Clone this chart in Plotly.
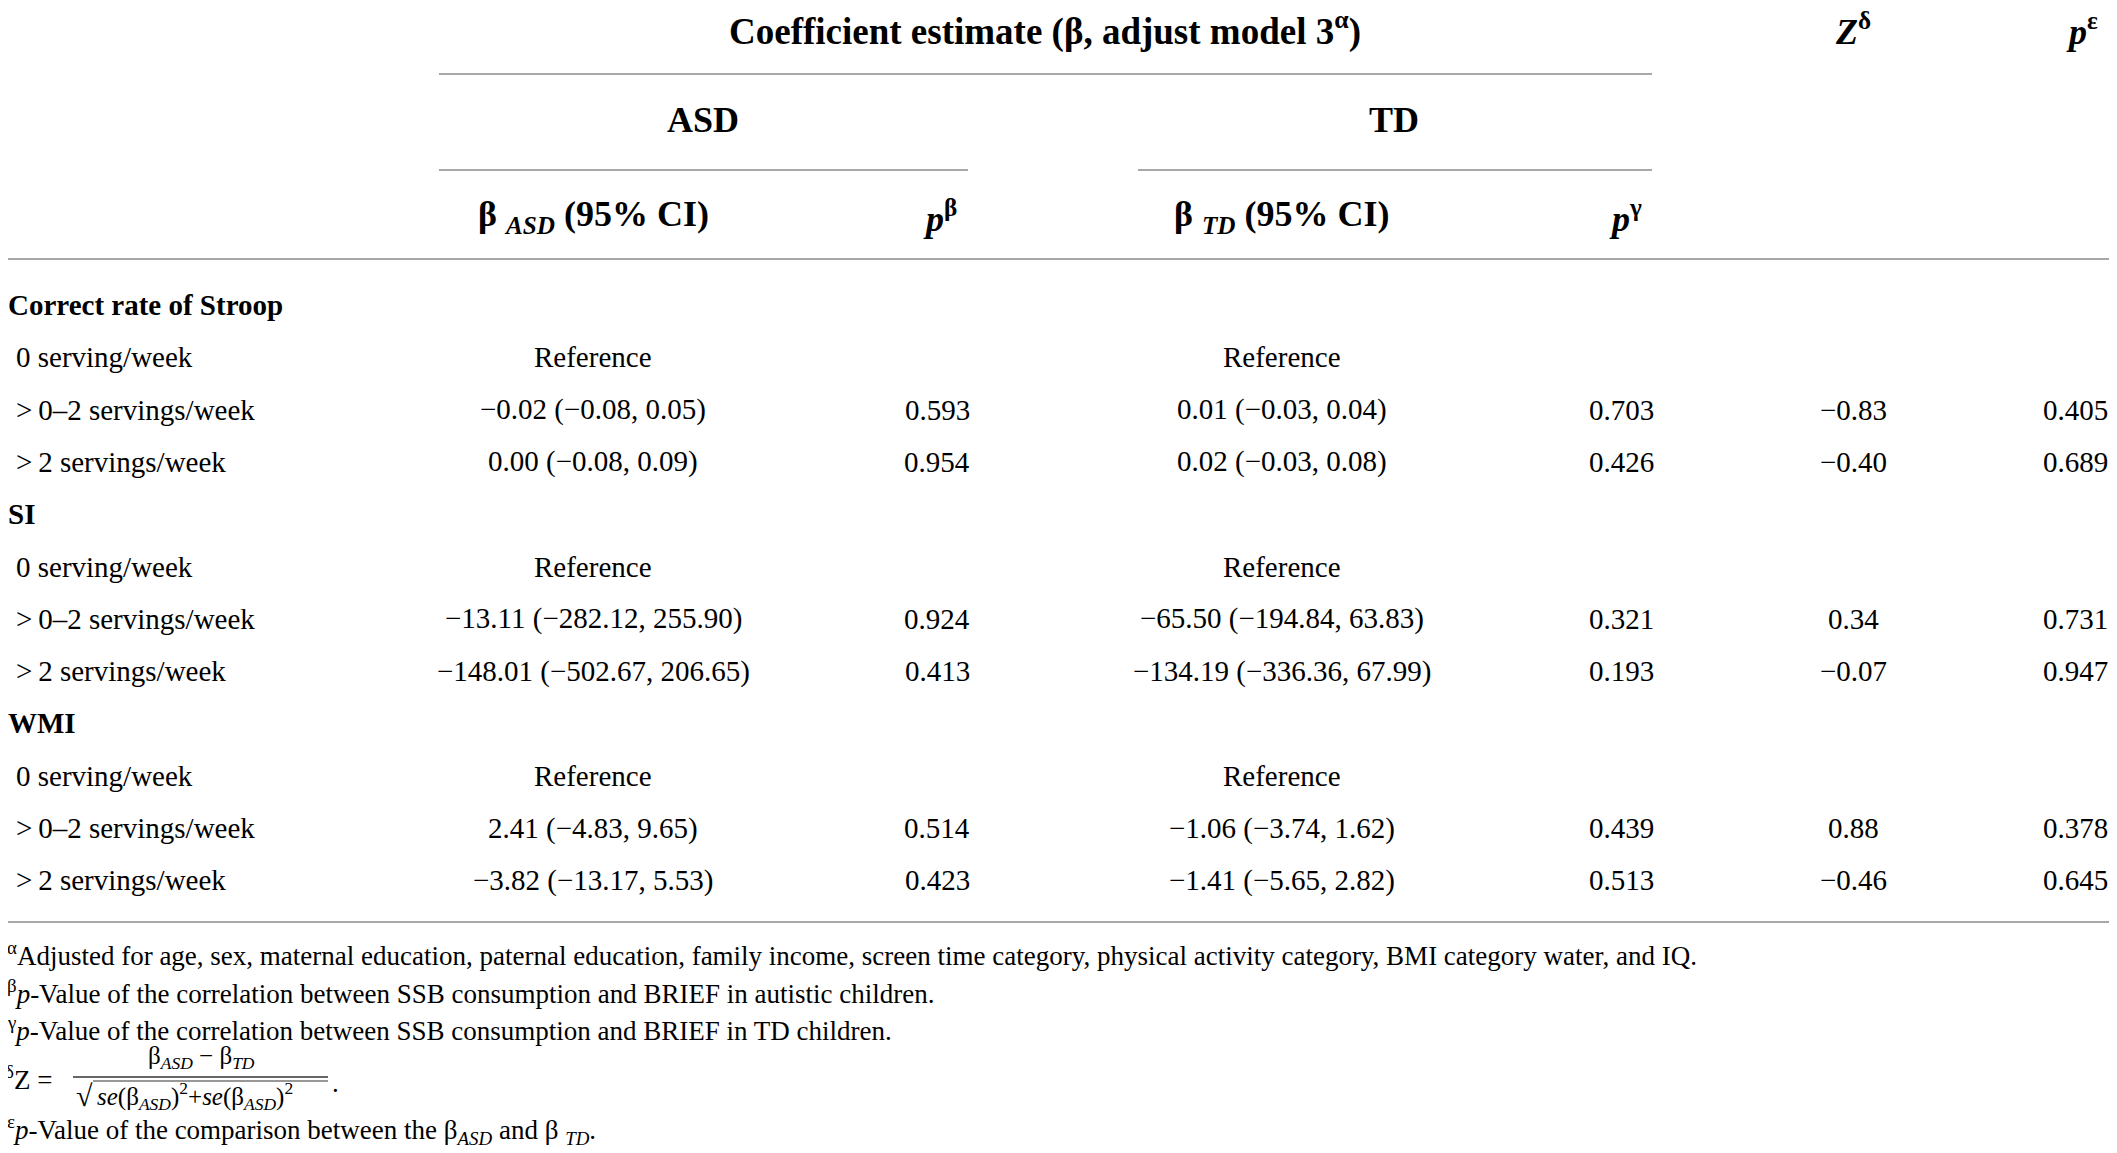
import plotly.graph_objects as go

# table content
groups = ["Correct rate of Stroop", "SI", "WMI"]
levels = ["0 serving/week", ">\u20090–2 servings/week", ">\u20092 servings/week"]

asd_ci = ["Reference", "−0.02 (−0.08, 0.05)", "0.00 (−0.08, 0.09)",
          "Reference", "−13.11 (−282.12, 255.90)", "−148.01 (−502.67, 206.65)",
          "Reference", "2.41 (−4.83, 9.65)", "−3.82 (−13.17, 5.53)"]
asd_p = ["", "0.593", "0.954", "", "0.924", "0.413", "", "0.514", "0.423"]
td_ci = ["Reference", "0.01 (−0.03, 0.04)", "0.02 (−0.03, 0.08)",
         "Reference", "−65.50 (−194.84, 63.83)", "−134.19 (−336.36, 67.99)",
         "Reference", "−1.06 (−3.74, 1.62)", "−1.41 (−5.65, 2.82)"]
td_p = ["", "0.703", "0.426", "", "0.321", "0.193", "", "0.439", "0.513"]
z_vals = ["", "−0.83", "−0.40", "", "0.34", "−0.07", "", "0.88", "−0.46"]
p_cmp = ["", "0.405", "0.689", "", "0.731", "0.947", "", "0.378", "0.645"]

footnotes = [
    "<sup>α</sup>Adjusted for age, sex, maternal education, paternal education, family income, screen time category, physical activity category, BMI category water, and IQ.",
    "<sup>β</sup><i>p</i>-Value of the correlation between SSB consumption and BRIEF in autistic children.",
    "<sup>γ</sup><i>p</i>-Value of the correlation between SSB consumption and BRIEF in TD children.",
]
last_note = "<sup>ε</sup><i>p</i>-Value of the comparison between the β<sub><i>ASD</i></sub> and β <sub><i>TD</i></sub>."

W, H = 2117, 1153
OFF = 8  # body margin of the html page
PW, PH = W - 2 * OFF, H - 2 * OFF
FONT = "Liberation Serif"
LINE = "#a8a8a8"
fs = 29
fs_head = 36
fs_note = 27
fs_frac = 25

fig = go.Figure()


def hline(x0, x1, y, w=2, color=LINE):
    fig.add_trace(go.Scatter(x=[x0, x1], y=[y, y], mode="lines",
                             line=dict(color=color, width=w),
                             hoverinfo="skip", showlegend=False))


def txt(x, y, s, anchor="left", size=fs, color="black"):
    # page pixels -> paper fraction (paper annotations are never hidden)
    fig.add_annotation(x=(x - OFF) / PW, y=1 - (y - OFF) / PH, text=s,
                       xref="paper", yref="paper", showarrow=False,
                       xanchor=anchor, yanchor="middle",
                       font=dict(family=FONT, size=size, color=color))


# rules
hline(439, 1652, 74)
hline(439, 968, 170)
hline(1138, 1652, 170)
hline(7, 2110, 259)
hline(7, 2110, 922)

# header
txt(1045, 29, "<b>Coefficient estimate (β, adjust model 3<sup>α</sup>)</b>", "center", 37)
txt(1853, 29, "<b><i>Z</i><sup>δ</sup></b>", "center", fs_head)
txt(2082, 29, "<b><i>p</i><sup>ε</sup></b>", "center", fs_head)
txt(703, 120, "<b>ASD</b>", "center", fs_head)
txt(1394, 120, "<b>TD</b>", "center", fs_head)
txt(593, 216, "<b>β <sub><i>ASD</i></sub> (95% CI)</b>", "center", fs_head)
txt(940, 216, "<b><i>p</i><sup>β</sup></b>", "center", fs_head)
txt(1282, 216, "<b>β <sub><i>TD</i></sub> (95% CI)</b>", "center", fs_head)
txt(1625, 216, "<b><i>p</i><sup>γ</sup></b>", "center", fs_head)

# body
row0, step = 305, 52.3
k = 0
for g, name in enumerate(groups):
    y = row0 + step * (g * 4)
    txt(6, y, "<b>" + name + "</b>")
    for j, lev in enumerate(levels):
        y = row0 + step * (g * 4 + j + 1)
        txt(14, y, lev)
        txt(593, y, asd_ci[k], "center")
        txt(972, y, asd_p[k], "right")
        txt(1282, y, td_ci[k], "center")
        txt(1656, y, td_p[k], "right")
        txt(1853, y, z_vals[k], "center")
        txt(2110, y, p_cmp[k], "right")
        k += 1

# footnotes
for i, note in enumerate(footnotes):
    txt(5, 954 + 37.5 * i, note, size=fs_note)

# Z formula footnote
txt(3, 1078, "<sup>δ</sup>Z =", size=fs_note)
txt(201, 1057, "β<sub><i>ASD</i></sub> − β<sub><i>TD</i></sub>", "center", fs_frac)
hline(73, 328, 1077, 1.5, "#333333")
txt(74, 1095, "√", size=30)
hline(93, 328, 1081, 1.2, "#333333")
txt(95, 1096, "<i>se</i>(β<sub><i>ASD</i></sub>)<sup>2</sup>+<i>se</i>(β<sub><i>ASD</i></sub>)<sup>2</sup>", size=fs_frac)
txt(330, 1083, ".", size=fs_note)
txt(5, 1130, last_note, size=fs_note)

fig.update_xaxes(range=[OFF, W - OFF], visible=False, fixedrange=True)
fig.update_yaxes(range=[H - OFF, OFF], visible=False, fixedrange=True)
fig.update_layout(width=PW, height=PH,
                  margin=dict(l=0, r=0, t=0, b=0),
                  plot_bgcolor="white", paper_bgcolor="white", showlegend=False)

fig.write_html("out.html")
